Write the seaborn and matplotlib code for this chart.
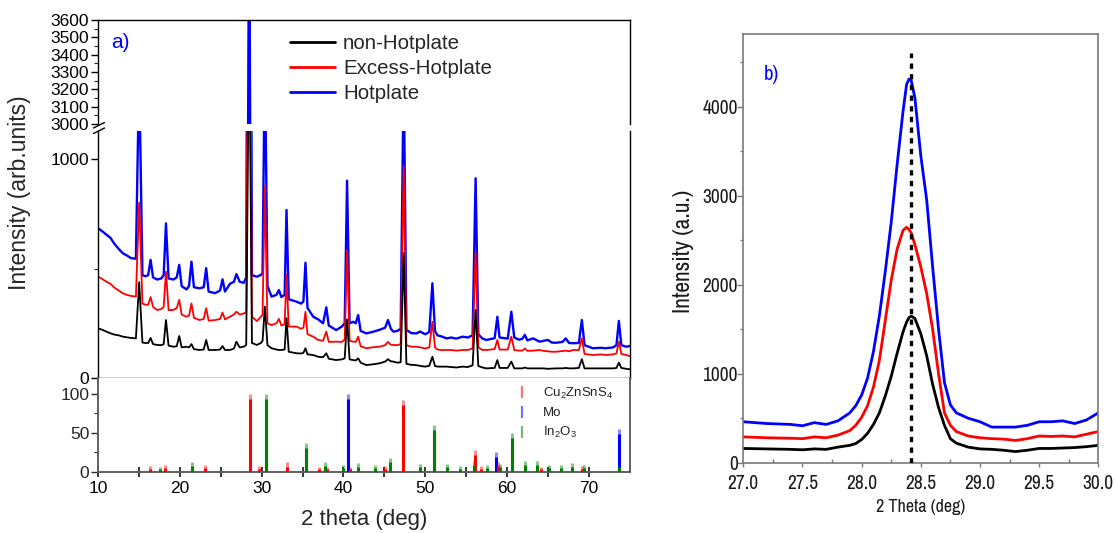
import matplotlib
matplotlib.use("Agg")
import matplotlib.pyplot as plt
from matplotlib.lines import Line2D
from matplotlib.ticker import MultipleLocator, FixedLocator, FormatStrFormatter, NullLocator
from matplotlib import font_manager
import numpy as np
import pandas as pd
import seaborn as sns

# ------------------------------------------------------------------ data
# panel a) full XRD patterns (2theta, intensity)
two_theta_a = [10.0, 10.5, 11.0, 11.5, 12.0, 12.5, 13.0, 13.5, 14.0, 14.6,
               15.0, 15.4, 15.8, 16.1, 16.4, 16.7, 17.2, 17.7, 18.0, 18.28,
               18.6, 19.2, 19.6, 19.9, 20.2, 20.8, 21.1, 21.4, 21.7, 22.4,
               22.9, 23.2, 23.5, 24.3, 24.9, 25.2, 25.5, 26.1, 26.6, 26.9,
               27.3, 27.8, 28.1, 28.46, 28.8, 29.4, 29.9, 30.1, 30.38, 30.7,
               31.2, 31.8, 32.1, 32.4, 32.8, 33.03, 33.3, 34.25, 34.8, 35.1,
               35.35, 35.6, 36.3, 36.9, 37.5, 37.9, 38.2, 39.1, 39.8, 40.15,
               40.44, 40.75, 41.2, 41.5, 41.8, 42.1, 42.8, 43.5, 44.4, 45.1,
               45.45, 45.8, 46.1, 46.6, 47.0, 47.37, 47.7, 48.3, 48.9, 49.4,
               50.0, 50.5, 50.88, 51.2, 51.5, 52.0, 52.6, 53.2, 53.8, 54.6,
               55.2, 55.8, 56.17, 56.5, 57.0, 57.5, 58.0, 58.5, 58.83, 59.1,
               60.1, 60.54, 60.9, 61.5, 61.9, 62.2, 62.5, 63.2, 64.0, 64.5,
               65.0, 65.5, 66.0, 66.8, 67.2, 67.6, 68.1, 68.8, 69.17, 69.5,
               70.5, 71.5, 72.1, 73.0, 73.4, 73.7, 74.0, 74.6, 75.0]
int_hotplate = [684, 670, 655, 640, 612, 590, 570, 560, 548, 545,
                1400, 470, 465, 470, 540, 460, 450, 455, 470, 707,
                455, 450, 460, 517, 420, 405, 420, 532, 415, 410,
                415, 502, 395, 388, 400, 451, 395, 430, 440, 475,
                440, 435, 460, 4400, 470, 463, 471, 480, 1500, 420,
                372, 380, 402, 370, 380, 768, 360, 349, 340, 350,
                527, 320, 280, 268, 250, 323, 240, 219, 235, 250,
                902, 250, 257, 250, 288, 215, 204, 210, 220, 230,
                265, 225, 212, 215, 225, 1400, 220, 205, 204, 212,
                200, 210, 433, 215, 195, 190, 181, 185, 180, 189,
                185, 195, 913, 200, 180, 174, 178, 182, 280, 185,
                180, 303, 185, 175, 180, 197, 172, 181, 166, 170,
                174, 162, 161, 165, 181, 160, 159, 160, 265, 150,
                136, 138, 136, 140, 150, 261, 150, 143, 146]
int_excess = [463, 452, 440, 430, 412, 400, 387, 380, 375, 372,
              802, 340, 335, 335, 370, 325, 311, 315, 325, 486,
              310, 311, 320, 357, 290, 280, 285, 341, 275, 265,
              270, 319, 262, 265, 270, 299, 268, 280, 290, 303,
              290, 295, 300, 2645, 280, 260, 280, 290, 878, 250,
              242, 250, 270, 240, 245, 471, 235, 235, 225, 230,
              303, 200, 189, 174, 170, 212, 165, 166, 165, 175,
              585, 170, 166, 165, 189, 145, 136, 140, 143, 150,
              165, 152, 151, 150, 155, 966, 150, 143, 143, 140,
              135, 140, 257, 140, 130, 128, 128, 128, 125, 128,
              128, 135, 578, 140, 128, 128, 130, 132, 174, 130,
              130, 189, 128, 125, 125, 135, 124, 125, 128, 124,
              122, 120, 120, 123, 125, 122, 128, 128, 181, 110,
              105, 108, 105, 108, 112, 166, 110, 105, 100]
int_non = [227, 220, 212, 204, 198, 195, 189, 186, 183, 181,
           438, 162, 160, 160, 183, 155, 151, 150, 155, 265,
           148, 143, 145, 192, 140, 143, 140, 155, 132, 128,
           130, 174, 128, 128, 130, 146, 128, 128, 135, 166,
           140, 143, 151, 1650, 160, 151, 160, 170, 326, 150,
           136, 130, 128, 128, 130, 273, 120, 113, 112, 115,
           136, 108, 105, 97, 95, 113, 88, 82, 85, 90,
           268, 85, 82, 80, 90, 70, 59, 62, 67, 75,
           86, 76, 75, 70, 72, 570, 65, 60, 59, 55,
           52, 56, 97, 55, 52, 52, 52, 50, 48, 52,
           50, 58, 311, 55, 48, 44, 45, 46, 82, 46,
           46, 75, 44, 44, 44, 48, 44, 44, 44, 44,
           42, 43, 44, 44, 46, 44, 44, 46, 86, 44,
           44, 44, 44, 44, 46, 70, 46, 42, 40]

# panel a) reference patterns (2theta, relative intensity)
czts_pos = [16.35, 18.2, 23.1, 28.53, 29.7, 33.03, 37.0, 38.0, 40.77, 45.05,
            47.33, 56.15, 56.8, 58.95, 64.2, 69.17]
czts_int = [7, 9, 8, 100, 7, 12, 6, 6, 6, 7, 92, 28, 7, 13, 6, 7]
mo_pos = [40.5, 58.62, 73.7]
mo_int = [100, 25, 55]
in2o3_pos = [17.5, 21.5, 30.58, 35.47, 37.7, 39.9, 41.8, 43.8, 45.7, 49.33,
             51.04, 52.7, 54.3, 56.0, 57.55, 59.1, 60.66, 62.16, 63.67, 65.1,
             66.6, 68.0, 69.4, 73.7, 75.0]
in2o3_int = [6, 13, 100, 37, 13, 8, 11, 8, 18, 10,
             60, 10, 7, 14, 8, 10, 50, 14, 14, 8,
             8, 11, 8, 12, 7]

# panel b) zoom on the (112) reflection
two_theta_b = [27.0, 27.2, 27.4, 27.5, 27.6, 27.7, 27.8, 27.9, 27.95, 28.0,
               28.05, 28.1, 28.15, 28.2, 28.25, 28.3, 28.35, 28.38, 28.4, 28.42,
               28.45, 28.5, 28.55, 28.6, 28.65, 28.7, 28.75, 28.8, 28.9, 29.0,
               29.1, 29.2, 29.3, 29.4, 29.5, 29.6, 29.7, 29.8, 29.9, 30.0]
peak_hotplate = [460, 440, 430, 415, 450, 430, 470, 560, 640, 760,
                 950, 1250, 1650, 2150, 2700, 3350, 3950, 4250, 4310, 4290,
                 4100, 3450, 2950, 2200, 1500, 900, 650, 560, 500, 460,
                 400, 400, 400, 420, 460, 460, 470, 440, 480, 560]
peak_excess = [290, 280, 275, 270, 290, 280, 310, 360, 420, 510,
               640, 850, 1150, 1600, 2050, 2400, 2610, 2645, 2620, 2580,
               2450, 2200, 1900, 1500, 1000, 560, 420, 350, 300, 280,
               270, 265, 250, 270, 300, 295, 300, 290, 320, 350]
peak_non = [160, 155, 150, 145, 155, 150, 175, 195, 215, 260,
            330, 430, 560, 750, 970, 1230, 1470, 1580, 1630, 1648,
            1620, 1450, 1200, 880, 620, 420, 270, 220, 175, 155,
            150, 140, 125, 140, 160, 160, 165, 170, 180, 195]
peak_center = 28.42
peak_center_top = 4600

series_labels = ["non-Hotplate", "Excess-Hotplate", "Hotplate"]
phase_labels = ["Cu$_2$ZnSnS$_4$", "Mo", "In$_2$O$_3$"]

# ------------------------------------------------------------------ style
sns.set_style("ticks")
plt.rcParams["font.family"] = ["Liberation Sans", "DejaVu Sans"]
plt.rcParams["mathtext.fontset"] = "custom"
plt.rcParams["mathtext.rm"] = "Liberation Sans"
plt.rcParams["mathtext.it"] = "Liberation Sans:italic"
plt.rcParams["mathtext.default"] = "regular"

_names = sorted({f.name for f in font_manager.fontManager.ttflist})
_narrow = [n for n in _names if ("Narrow" in n or "Condensed" in n)]
NARROW = (_narrow[:1] + ["Liberation Sans"]) if _narrow else ["Liberation Sans"]
HAS_NARROW = bool(_narrow)

C_BLACK, C_RED, C_BLUE, C_GREEN = "#000000", "#ff0000", "#0000ff", "#008000"
W, H = 1115, 533
fig = plt.figure(figsize=(W / 100, H / 100), dpi=100)


def box(left, top, right, bottom):
    return [left / W, 1 - bottom / H, (right - left) / W, (bottom - top) / H]


LX, RX = 98.3, 629.5
ax_up = fig.add_axes(box(LX, 20, RX, 124))
ax_lo = fig.add_axes(box(LX, 131, RX, 378))
ax_ref = fig.add_axes(box(LX, 378, RX, 471.7))
ax_b = fig.add_axes(box(743.3, 34.3, 1098.3, 462.7))

# ------------------------------------------------------------------ panel a) patterns
for ax in (ax_up, ax_lo):
    for yvals, col, lw in ((int_hotplate, C_BLUE, 1.7),
                           (int_excess, C_RED, 1.3),
                           (int_non, C_BLACK, 1.3)):
        sns.lineplot(x=two_theta_a, y=yvals, ax=ax, color=col, linewidth=lw,
                     estimator=None, sort=False, legend=False)
    ax.set_xlim(10, 75)
    ax.set_xlabel("")
    ax.set_ylabel("")
    ax.xaxis.set_major_locator(NullLocator())
    ax.xaxis.set_minor_locator(NullLocator())
    for s in ax.spines.values():
        s.set_color("black")
        s.set_linewidth(1.0)
    ax.tick_params(axis="y", which="major", direction="out", length=5, width=1,
                   labelsize=12.5, pad=1.5, colors="black")
    ax.tick_params(axis="y", which="minor", direction="out", length=3, width=0.8)

ax_up.set_ylim(3000, 3600)
ax_up.yaxis.set_major_locator(MultipleLocator(100))
ax_up.yaxis.set_minor_locator(MultipleLocator(50))
ax_up.spines["bottom"].set_visible(False)

ax_lo.set_ylim(0, 1129)
ax_lo.yaxis.set_major_locator(FixedLocator([0, 1000]))
ax_lo.yaxis.set_minor_locator(FixedLocator([500]))
ax_lo.spines["top"].set_visible(False)

# axis break marks
for (x0, y0, x1, y1) in ((93.5, 128.0, 104.5, 122.5), (93.5, 133.5, 104.5, 128.0)):
    fig.add_artist(Line2D([x0 / W, x1 / W], [1 - y0 / H, 1 - y1 / H],
                          transform=fig.transFigure, color="black", lw=1.0))

# legend
handles = [Line2D([], [], color=C_BLACK, lw=2),
           Line2D([], [], color=C_RED, lw=2),
           Line2D([], [], color=C_BLUE, lw=2)]
fig.legend(handles, series_labels, loc="upper left",
           bbox_to_anchor=(290 / W, 1 - 34 / H), bbox_transform=fig.transFigure,
           frameon=False, fontsize=14.8, handlelength=2.2, handletextpad=0.38,
           labelspacing=0.3, borderpad=0, borderaxespad=0)

fig.text(120 / W, 1 - 42.5 / H, "a)", color=C_BLUE, fontsize=15,
         ha="center", va="center")

# ------------------------------------------------------------------ panel a) reference sticks
for pos, hts, col in ((mo_pos, mo_int, C_BLUE), (czts_pos, czts_int, C_RED),
                      (in2o3_pos, in2o3_int, C_GREEN)):
    hts = np.asarray(hts, dtype=float)
    tip = np.minimum(6.0, hts * 0.45)
    ax_ref.vlines(pos, 0, hts, color=col, alpha=0.45, lw=2.2, zorder=3)
    ax_ref.vlines(pos, 0, hts - tip, color=col, lw=2.2, zorder=4)

ax_ref.set_xlim(10, 75)
ax_ref.set_ylim(0, 120.6)
ax_ref.xaxis.set_major_locator(MultipleLocator(10))
ax_ref.xaxis.set_minor_locator(FixedLocator([15, 25, 35, 45, 55, 65]))
ax_ref.yaxis.set_major_locator(MultipleLocator(50))
ax_ref.yaxis.set_minor_locator(FixedLocator([25, 75]))
for side in ("left", "right", "bottom"):
    ax_ref.spines[side].set_color("#606060")
    ax_ref.spines[side].set_linewidth(1.4)
ax_ref.spines["top"].set_visible(False)
ax_ref.tick_params(axis="x", which="both", direction="inout", length=7, width=1.1,
                   colors="black", labelsize=12.5, pad=3)
ax_ref.tick_params(axis="y", which="major", direction="out", length=5, width=1,
                   labelsize=12.5, pad=1.5)
ax_ref.tick_params(axis="y", which="minor", direction="out", length=3, width=0.8)

ph_handles = [Line2D([], [], marker="|", linestyle="None", markersize=9,
                     markeredgewidth=1.6, color=c, alpha=0.55)
              for c in (C_RED, C_BLUE, C_GREEN)]
ax_ref.legend(ph_handles, phase_labels, loc="upper left",
              bbox_to_anchor=(515 / W, 1 - 386 / H), bbox_transform=fig.transFigure,
              frameon=False, fontsize=9.5, handlelength=1.0, handletextpad=1.1,
              labelspacing=0.45, borderpad=0, borderaxespad=0, labelcolor="#222222")

fig.text(364 / W, 1 - 520 / H, "2 theta (deg)", fontsize=16, ha="center", va="center")
fig.text(20 / W, 1 - 193 / H, "Intensity (arb.units)", fontsize=16.5, rotation=90,
         ha="center", va="center")

# ------------------------------------------------------------------ panel b)
for yvals, col in ((peak_non, C_BLACK), (peak_excess, C_RED), (peak_hotplate, C_BLUE)):
    sns.lineplot(x=two_theta_b, y=yvals, ax=ax_b, color=col, linewidth=2.0,
                 estimator=None, sort=False, legend=False)
ax_b.vlines(peak_center, 0, peak_center_top, color="black", lw=2.4,
            linestyles=(0, (1.6, 1.6)), zorder=5)
ax_b.set_xlim(27, 30)
ax_b.set_ylim(0, 4813)
ax_b.set_xlabel("")
ax_b.set_ylabel("")
ax_b.xaxis.set_major_locator(MultipleLocator(0.5))
ax_b.xaxis.set_minor_locator(MultipleLocator(0.25))
ax_b.xaxis.set_major_formatter(FormatStrFormatter("%.1f"))
ax_b.yaxis.set_major_locator(MultipleLocator(1000))
ax_b.yaxis.set_minor_locator(MultipleLocator(500))
for s in ax_b.spines.values():
    s.set_color("#7a7a7a")
    s.set_linewidth(1.2)
ax_b.tick_params(axis="x", which="major", direction="out", length=3, width=1,
                 color="#7a7a7a", pad=5)
ax_b.tick_params(axis="x", which="minor", direction="in", length=3, width=1, color="#7a7a7a")
ax_b.tick_params(axis="y", which="major", direction="out", length=4, width=1,
                 color="#7a7a7a", pad=0)
ax_b.tick_params(axis="y", which="minor", direction="out", length=2.5, width=1,
                 color="#7a7a7a")
tick_fs = 14 if HAS_NARROW else 12.5
for lab in ax_b.get_xticklabels() + ax_b.get_yticklabels():
    lab.set_family(NARROW)
    lab.set_fontsize(tick_fs)
    lab.set_color("#1a1a1a")

fig.text(920.8 / W, 1 - 506.7 / H, "2 Theta (deg)", fontsize=13 if HAS_NARROW else 11.5,
         family=NARROW, ha="center", va="center", color="#1a1a1a")
fig.text(683 / W, 1 - 251 / H, "Intensity (a.u.)", fontsize=17 if HAS_NARROW else 14,
         family=NARROW, rotation=90, ha="center", va="center", color="#1a1a1a")
fig.text(771 / W, 1 - 75 / H, "b)", fontsize=15, family=NARROW, color=C_BLUE,
         ha="center", va="center")

fig.savefig("out.png", dpi=100)
